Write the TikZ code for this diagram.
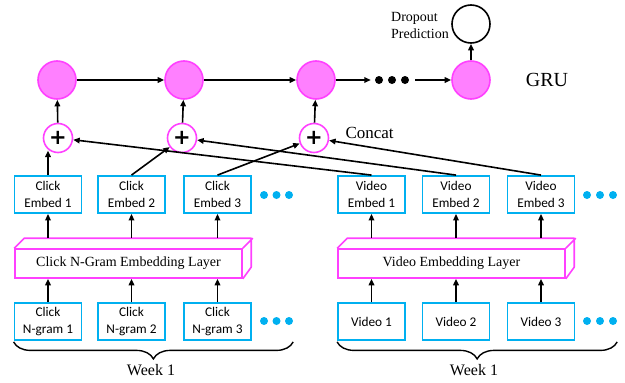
\documentclass[tikz,border=0pt]{standalone}
\usepackage{fontspec}
\setmainfont{Liberation Serif}
\newfontfamily\boxfont{Carlito}
\newfontfamily\plusfont{DejaVu Sans}
\usetikzlibrary{arrows.meta,decorations.pathreplacing}
\definecolor{cyanb}{HTML}{00B0F0}
\definecolor{magb}{HTML}{FF40FF}
\definecolor{pinkf}{HTML}{FF80FF}
\begin{document}
\begin{tikzpicture}[x=1pt,y=-1pt,
  box/.style={draw=cyanb, line width=1.8pt, minimum width=67pt, minimum height=37pt, inner sep=0pt, align=center, font=\boxfont\fontsize{13.3}{16.3}\selectfont},
  gru/.style={circle, draw=magb, fill=pinkf, line width=1.6pt, minimum size=38pt, inner sep=0pt},
  cat/.style={circle, draw=magb, fill=white, line width=1.6pt, minimum size=29pt, inner sep=0pt, font=\plusfont\bfseries\fontsize{21}{21}\selectfont},
  bdot/.style={circle, fill=cyanb, minimum size=8pt, inner sep=0pt},
  kdot/.style={circle, fill=black, minimum size=8pt, inner sep=0pt},
  arr/.style={-{Triangle[length=6.5pt,width=5.5pt]}, line width=1.6pt},
  layer/.style={draw=magb, line width=1.6pt, minimum width=227pt, minimum height=29pt, inner sep=0pt, font=\fontsize{14}{16}\selectfont},
  cube/.style={draw=magb, line width=1.6pt, line join=round},
  brc/.style={decorate, decoration={brace, mirror, amplitude=17pt}, line width=1.4pt},
]
\useasboundingbox (0,0) rectangle (625,383);
% GRU row
\node[gru] (g1) at (57,80) {};
\node[gru] (g2) at (184,80) {};
\node[gru] (g3) at (316,80) {};
\node[gru] (g4) at (471,80) {};
\node[kdot] (k1) at (379,80) {};
\node[kdot] (k2) at (392,80) {};
\node[kdot] (k3) at (405,80) {};
\node[circle, draw=black, line width=1.6pt, minimum size=38pt, inner sep=0pt] (drop) at (471,24) {};
\node[anchor=west, align=left, inner sep=0pt, font=\fontsize{14}{17}\selectfont] (droptxt) at (391,25) {Dropout\\Prediction};
\node[font=\fontsize{20}{24}\selectfont] (grulbl) at (547,80) {GRU};
\draw[arr] (g1) -- (g2);
\draw[arr] (g2) -- (g3);
\draw[arr, shorten >=4pt] (g3) -- (k1);
\draw[arr, shorten <=6pt] (k3) -- (g4);
\draw[arr] (g4) -- (drop);
% concat
\node[cat] (p1) at (58,138) {+};
\node[cat] (p2) at (182,138) {+};
\node[cat] (p3) at (314,138) {+};
\node[anchor=west, font=\fontsize{17}{20}\selectfont] (cc) at (342,133) {Concat};
\draw[arr] (p1) -- (g1);
\draw[arr] (p2) -- (g2);
\draw[arr] (p3) -- (g3);
% embeds
\node[box] (ce1) at (48,194.5) {Click\\Embed 1};
\node[box] (ce2) at (131.5,194.5) {Click\\Embed 2};
\node[box] (ce3) at (217.5,194.5) {Click\\Embed 3};
\node[box] (ve1) at (371.5,194.5) {Video\\Embed 1};
\node[box] (ve2) at (456,194.5) {Video\\Embed 2};
\node[box] (ve3) at (541,194.5) {Video\\Embed 3};
\node[bdot] (cd1) at (264,195) {};
\node[bdot] (cd2) at (276.5,195) {};
\node[bdot] (cd3) at (289,195) {};
\node[bdot] (vd1) at (587,195) {};
\node[bdot] (vd2) at (600,195) {};
\node[bdot] (vd3) at (613,195) {};
\draw[arr] (ce1.north) -- (ce1.north |- p1.235);
\draw[arr] (ce2.north) -- (p2);
\draw[arr] (ce3.north) -- (p3);
\draw[arr] (ve1.north) -- (p1);
\draw[arr] (ve2.north) -- (p2);
\draw[arr] (ve3.north) -- (p3);
% layers
\node[layer] (cl) at (128.5,263.5) {Click N-Gram Embedding Layer};
\node[layer] (vl) at (451.5,263.5) {Video Embedding Layer};
\draw[cube] (cl.north west) -- ++(10,-10) -- ++(227,0) -- ++(0,29) -- (cl.south east) (cl.north east) -- ++(10,-10);
\draw[cube] (vl.north west) -- ++(10,-10) -- ++(227,0) -- ++(0,29) -- (vl.south east) (vl.north east) -- ++(10,-10);
\coordinate (cltop) at ([yshift=10pt]cl.north);
\coordinate (vltop) at ([yshift=10pt]vl.north);
\draw[arr] (ce1.south |- cltop) -- (ce1.south);
\draw[arr] (ce2.south |- cltop) -- (ce2.south);
\draw[arr] (ce3.south |- cltop) -- (ce3.south);
\draw[arr] (ve1.south |- vltop) -- (ve1.south);
\draw[arr] (ve2.south |- vltop) -- (ve2.south);
\draw[arr] (ve3.south |- vltop) -- (ve3.south);
% inputs
\node[box] (cn1) at (48,321.5) {Click\\N-gram 1};
\node[box] (cn2) at (131.5,321.5) {Click\\N-gram 2};
\node[box] (cn3) at (217.5,321.5) {Click\\N-gram 3};
\node[box] (vv1) at (371.5,321.5) {Video 1};
\node[box] (vv2) at (456,321.5) {Video 2};
\node[box] (vv3) at (541,321.5) {Video 3};
\node[bdot] (ld1) at (264,321) {};
\node[bdot] (ld2) at (276.5,321) {};
\node[bdot] (ld3) at (289,321) {};
\node[bdot] (rd1) at (587,321) {};
\node[bdot] (rd2) at (600,321) {};
\node[bdot] (rd3) at (613,321) {};
\draw[arr] (cn1.north) -- (cn1.north |- cl.south);
\draw[arr] (cn2.north) -- (cn2.north |- cl.south);
\draw[arr] (cn3.north) -- (cn3.north |- cl.south);
\draw[arr] (vv1.north) -- (vv1.north |- vl.south);
\draw[arr] (vv2.north) -- (vv2.north |- vl.south);
\draw[arr] (vv3.north) -- (vv3.north |- vl.south);
% braces
\draw[brc] ([yshift=-1pt]cn1.south west) -- ([yshift=-1pt]ld3.east |- cn1.south);
\draw[brc] ([yshift=-1pt]vv1.south west) -- ([yshift=-1pt]rd3.east |- vv1.south);
\node[font=\fontsize{16}{19}\selectfont] (w1) at (151,370) {Week 1};
\node[font=\fontsize{16}{19}\selectfont] (w2) at (474,370) {Week 1};
\end{tikzpicture}
\end{document}
